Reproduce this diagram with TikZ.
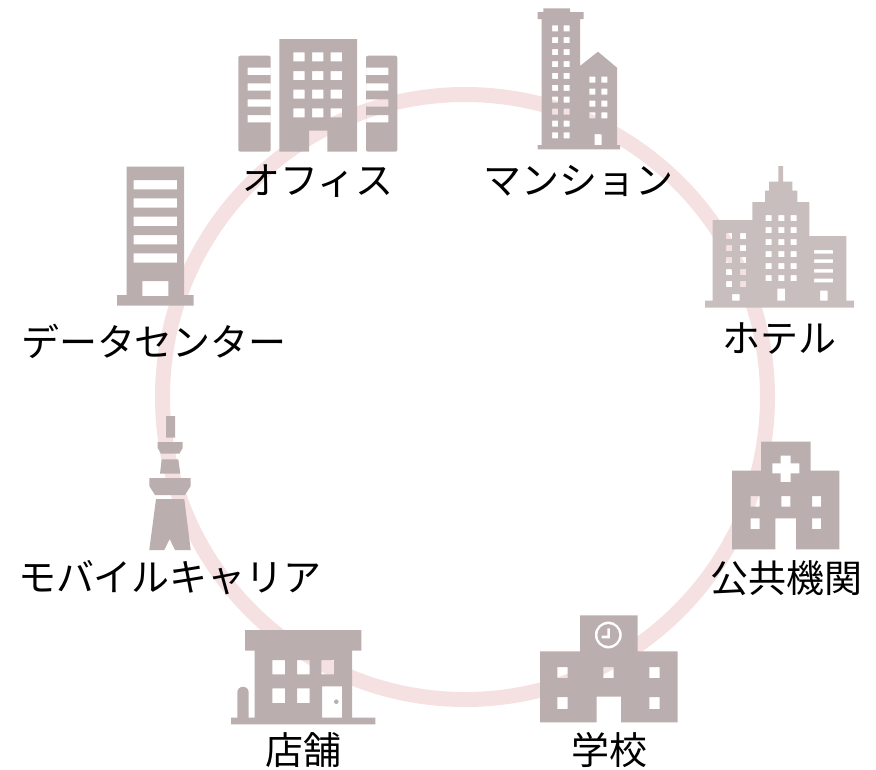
\documentclass[tikz,border=0pt]{standalone}
\usepackage{fontspec}
\newfontfamily\jpfont{Noto Sans CJK JP}
\definecolor{ringcol}{HTML}{F6E1E2}
\definecolor{iconcol}{HTML}{BBAEAE}
\definecolor{hotelcol}{HTML}{C8BEBE}
\tikzset{ringline/.style={draw=ringcol, line width=15pt},
	icon/.style={fill=iconcol, even odd rule},
	hotelicon/.style={fill=hotelcol, even odd rule},
	caption/.style={font=\jpfont\fontsize{38}{38}\selectfont, text=black, inner sep=0}}
\begin{document}
\begin{tikzpicture}
	[x=1pt, y=-1pt]
	\useasboundingbox (0,0) rectangle (876,769);

	\draw [ringline] (465,397) circle [radius=302.5pt];

	% office
	\fill [icon] {[rounded corners=2pt] (238.3,55.7) rectangle (270.7,151.7)}
		\foreach \y in {67.7,83.3,99.3,115} { (247.7,\y) rectangle +(23,7.4) };
	\fill [icon] {[rounded corners=2pt] (366,55.7) rectangle (397.3,151.7)}
		\foreach \y in {67.7,83.3,99.3,115} { (366,\y) rectangle +(22.3,7.4) };
	\fill [icon] (279.3,39) -- (357,39) -- (357,151.7) -- (327.3,151.7) -- (327.3,130.7) -- (309,130.7) -- (309,151.7) -- (279.3,151.7) -- cycle
		\foreach \x in {293.3,312,330.7} { \foreach \y in {52.3,71,89.7,108.3} { (\x,\y) rectangle +(11.3,9) } };

	% apartment
	\fill [icon] (543.3,8.3) -- (570,8.3) -- (570,12) -- (583.7,12) -- (583.7,19) -- (580,19) -- (580,66) -- (598,51.7) -- (617,67.7)
		-- (617,145) -- (620,145) -- (620,149.3) -- (537.7,149.3) -- (537.7,145) -- (541.7,145) -- (541.7,19) -- (537.7,19) -- (537.7,12) -- (543.3,12) -- cycle
		\foreach \x in {552,563.7} { \foreach \y in {25.3,37.2,49.1,61,72.9,84.8,96.7,108.6,120.5,132.4} { (\x,\y) rectangle +(6,6) } }
		\foreach \x in {589.3,601.3} { \foreach \y in {76.7,88.7,100.7,112.3} { (\x,\y) rectangle +(6,6) } }
		(594.7,134) rectangle (601.7,145);

	% hotel
	\fill [hotelicon] (778.3,166) -- (783,166) -- (783,181.7) -- (792.3,181.7) -- (792.3,190.7) -- (797.3,190.7) -- (797.3,202) -- (809.3,202) -- (809.3,236) -- (846.3,236)
		-- (846.3,300.7) -- (854,300.7) -- (854,307.7) -- (705,307.7) -- (705,300.7) -- (712.7,300.7) -- (712.7,220) -- (752.3,220) -- (752.3,202) -- (765,202) -- (765,190.7) -- (769,190.7) -- (769,181.7) -- (778.3,181.7) -- cycle
		\foreach \x in {726,740} { \foreach \y in {233,245,257,269,281} { (\x,\y) rectangle +(6,6) } }
		\foreach \x in {765.7,778.3,790.7} { \foreach \y in {215,227,239,251,263,275} { (\x,\y) rectangle +(6,6) } }
		\foreach \y in {250,259.3,269,278.7} { (814,\y) rectangle +(19,3.6) }
		(732,294) rectangle (739.7,300.7)
		(777.3,288.7) rectangle (785,300.7)
		(820,290.7) rectangle (827.7,300.7);

	% data center
	\fill [icon] (126.7,166.7) -- (184,166.7) -- (184,295) -- (193.7,295) -- (193.7,305.7) -- (117,305.7) -- (117,295) -- (126.7,295) -- cycle
		\foreach \y in {180,198.3,216.7,235,253.3} { (133.7,\y) rectangle +(43.3,9.3) }
		(142.3,281) rectangle (168.3,296);

	% tower
	\fill [icon] (166,416) rectangle (175,437.7)
		(157.7,442) -- (182.7,442) -- (182.7,448) -- (179.3,453.7) -- (161,453.7) -- (157.7,448) -- cycle
		(161.7,459.3) -- (178.3,459.3) -- (180.3,473.7) -- (160,473.7) -- cycle
		(149.3,478) -- (190.7,478) -- (190.7,486) -- (185,495) -- (155,495) -- (149.3,486) -- cycle
		(156,499) -- (184.3,499) -- (190.7,550) -- (175,550) -- (169.7,539) -- (164.3,550) -- (149.3,550) -- cycle;

	% store
	\fill [icon] (245,630) -- (361.3,630) -- (361.3,650.7) -- (352,650.7) -- (352,717.7) -- (375.3,717.7) -- (375.3,724.3) -- (231,724.3) -- (231,717.7) -- (237.3,717.7)
		-- (237.3,692.4) arc [start angle=180, end angle=0, radius=5.7pt] -- (248.7,717.7) -- (254.7,717.7) -- (254.7,650.7) -- (245,650.7) -- cycle
		\foreach \x in {272.3,297,321.3} { (\x,660) rectangle +(12.7,14.3) }
		\foreach \x in {272.3,297} { (\x,688.3) rectangle +(12.7,14.7) }
		(322,686.3) rectangle (342,717.7);
	\fill [icon] (336.3,701.7) circle [radius=2.3pt];

	% school
	\fill [icon] (580,615.3) -- (637.7,615.3) -- (637.7,651.3) -- (677.7,651.3) -- (677.7,722.3) -- (621,722.3) -- (621,696.7) -- (596.7,696.7) -- (596.7,722.3) -- (540,722.3) -- (540,651.3) -- (580,651.3) -- cycle
		\foreach \x in {557.3,603.3,649.3} { (\x,667) rectangle +(10.4,11) }
		\foreach \x in {557.3,649.3} { (\x,697) rectangle +(10.4,12) }
		(608.3,635) circle [radius=13.5pt]
		(608.3,635) circle [radius=10.9pt]
		(607.3,628.3) -- (610,628.3) -- (610,638.3) -- (601.7,638.3) -- (601.7,635.7) -- (607.3,635.7) -- cycle;

	% hospital
	\fill [icon] (761,441.7) -- (810.7,441.7) -- (810.7,470.7) -- (839.3,470.7) -- (839.3,549.3) -- (796,549.3) -- (796,518.3) -- (775.3,518.3) -- (775.3,549.3) -- (732,549.3) -- (732,470.7) -- (761,470.7) -- cycle
		(780.7,455.7) -- (790.7,455.7) -- (790.7,463.3) -- (799.3,463.3) -- (799.3,473.3) -- (790.7,473.3) -- (790.7,482) -- (780.7,482) -- (780.7,473.3) -- (772.3,473.3) -- (772.3,463.3) -- (780.7,463.3) -- cycle
		\foreach \x in {750.7,781.3,812} { (\x,496) rectangle +(9,10.7) }
		\foreach \x in {750.7,812} { (\x,518.3) rectangle +(9,10.7) };

	\node (office) [caption] at (318,181) {オフィス};
	\node (apartment) [caption] at (578,181) {マンション};
	\node (hotel) [caption] at (779,339) {ホテル};
	\node (datacenter) [caption] at (154,341) {データセンター};
	\node (mobile) [caption] at (170,578) {モバイルキャリア};
	\node (store) [caption] at (303,750) {店舗};
	\node (school) [caption] at (609,750) {学校};
	\node (public) [caption] at (786,578) {公共機関};
\end{tikzpicture}
\end{document}
